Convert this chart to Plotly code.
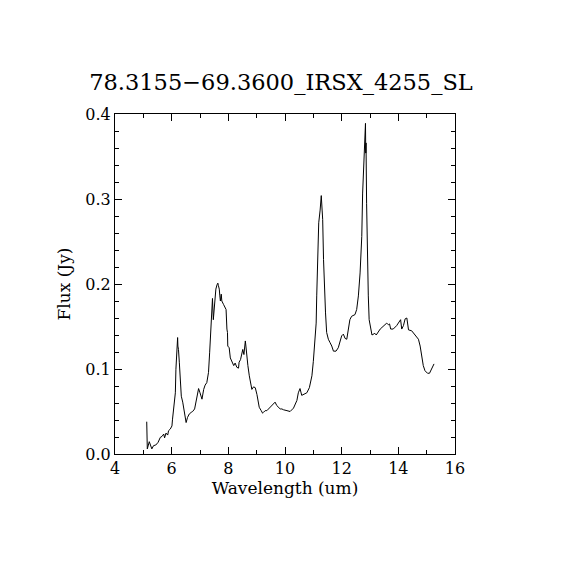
import plotly.graph_objects as go

# spectrum
wavelength = [
    5.12, 5.14, 5.21, 5.30, 5.36, 5.44, 5.52, 5.60, 5.66, 5.72, 5.75, 5.80, 5.86, 5.89, 5.95,
    6.01, 6.03, 6.07, 6.10, 6.13, 6.15, 6.19, 6.21, 6.22, 6.24, 6.27, 6.30, 6.34, 6.39, 6.44,
    6.48, 6.51, 6.56, 6.62, 6.69, 6.74, 6.81, 6.86, 6.90, 6.95, 7.00, 7.07, 7.13, 7.18, 7.24,
    7.30, 7.34, 7.40, 7.42, 7.44, 7.47, 7.49, 7.51, 7.56, 7.60, 7.63, 7.65, 7.68, 7.70, 7.72,
    7.75, 7.77, 7.83, 7.89, 7.92, 7.95, 7.97, 7.98, 8.03, 8.07, 8.10, 8.15, 8.19, 8.24, 8.30,
    8.36, 8.38, 8.43, 8.48, 8.51, 8.55, 8.57, 8.60, 8.62, 8.65, 8.69, 8.74, 8.78, 8.83, 8.89,
    8.95, 9.01, 9.04, 9.09, 9.16, 9.21, 9.24, 9.30, 9.36, 9.42, 9.48, 9.54, 9.60, 9.65, 9.71,
    9.77, 9.83, 9.89, 9.95, 10.07, 10.18, 10.30, 10.42, 10.47, 10.53, 10.59, 10.77, 10.86, 10.95,
    11.00, 11.06, 11.10, 11.12, 11.16, 11.19, 11.24, 11.26, 11.28, 11.31, 11.33, 11.36, 11.39,
    11.43, 11.47, 11.53, 11.59, 11.65, 11.71, 11.80, 11.88, 11.94, 12.00, 12.06, 12.12, 12.18,
    12.24, 12.29, 12.35, 12.47, 12.53, 12.59, 12.65, 12.71, 12.74, 12.76, 12.79, 12.81, 12.84,
    12.85, 12.86, 12.88, 12.90, 12.94, 12.97, 13.02, 13.07, 13.17, 13.22, 13.36, 13.48, 13.59,
    13.65, 13.69, 13.73, 13.82, 13.94, 14.03, 14.08, 14.12, 14.18, 14.24, 14.30, 14.36, 14.47,
    14.59, 14.71, 14.77, 14.83, 14.88, 14.94, 15.03, 15.10, 15.18, 15.26,
]
flux = [
    0.038, 0.006, 0.0145, 0.006, 0.0098, 0.0106, 0.0137, 0.0196, 0.0207, 0.0235, 0.019, 0.0246, 0.0223, 0.0274, 0.0293,
    0.033, 0.041, 0.053, 0.061, 0.072, 0.0997, 0.119, 0.137, 0.127, 0.123, 0.108, 0.088, 0.068, 0.061, 0.049,
    0.041, 0.037, 0.043, 0.047, 0.049, 0.050, 0.053, 0.061, 0.068, 0.077, 0.072, 0.0645, 0.076, 0.081, 0.084,
    0.096, 0.119, 0.151, 0.174, 0.183, 0.158, 0.166, 0.182, 0.194, 0.199, 0.201, 0.198, 0.194, 0.186, 0.180,
    0.188, 0.180, 0.176, 0.172, 0.170, 0.147, 0.143, 0.127, 0.125, 0.113, 0.111, 0.106, 0.104, 0.107, 0.102,
    0.101, 0.108, 0.111, 0.119, 0.123, 0.117, 0.127, 0.133, 0.127, 0.115, 0.104, 0.092, 0.084, 0.076, 0.079,
    0.078, 0.070, 0.063, 0.055, 0.051, 0.048, 0.049, 0.051, 0.051, 0.053, 0.055, 0.057, 0.059, 0.061, 0.057,
    0.055, 0.053, 0.053, 0.052, 0.051, 0.050, 0.054, 0.063, 0.072, 0.077, 0.069, 0.072, 0.078, 0.092,
    0.109, 0.135, 0.154, 0.186, 0.229, 0.272, 0.287, 0.299, 0.304, 0.287, 0.276, 0.229, 0.194,
    0.166, 0.143, 0.135, 0.131, 0.127, 0.121, 0.121, 0.125, 0.133, 0.139, 0.141, 0.136, 0.135,
    0.147, 0.158, 0.162, 0.164, 0.170, 0.186, 0.213, 0.256, 0.307, 0.326, 0.366, 0.381, 0.389,
    0.354, 0.366, 0.295, 0.240, 0.186, 0.158, 0.147, 0.140, 0.142, 0.140, 0.147, 0.151, 0.154,
    0.152, 0.153, 0.147, 0.147, 0.151, 0.156, 0.158, 0.147, 0.151, 0.159, 0.160, 0.146, 0.145,
    0.140, 0.135, 0.127, 0.115, 0.104, 0.098, 0.095, 0.095, 0.100, 0.106,
]

title = "78.3155\u221269.3600_IRSX_4255_SL"
font = "DejaVu Serif"

fig = go.Figure(go.Scatter(x=wavelength, y=flux, mode="lines",
                           line=dict(color="black", width=1), showlegend=False))

axis_common = dict(
    showgrid=False, zeroline=False, showline=True, linecolor="black", linewidth=1,
    mirror="allticks", ticks="inside", ticklen=7, tickcolor="black", tickwidth=1,
    tickfont=dict(family=font, size=16, color="black"),
)

fig.update_xaxes(
    range=[4, 16], tick0=4, dtick=2,
    minor=dict(ticks="inside", dtick=1, ticklen=4, tickcolor="black"),
    title=dict(text="Wavelength (um)", font=dict(family=font, size=17, color="black"), standoff=2),
    **axis_common
)
fig.update_yaxes(
    range=[0, 0.4], tick0=0, dtick=0.1, tickformat=".1f",
    minor=dict(ticks="inside", dtick=0.02, ticklen=4, tickcolor="black"),
    title=dict(text="Flux (Jy)", font=dict(family=font, size=17, color="black"), standoff=10),
    **axis_common
)

# the page body adds an 8px offset, so margins are shifted by that much
fig.update_layout(
    width=570, height=570,
    margin=dict(l=107, r=123, t=106, b=124),
    paper_bgcolor="white", plot_bgcolor="white",
    title=dict(text=title, x=273 / 570, xanchor="center", y=1 - 74 / 570, yanchor="middle",
               font=dict(family=font, size=22.5, color="black")),
)

fig.write_html("out.html")
